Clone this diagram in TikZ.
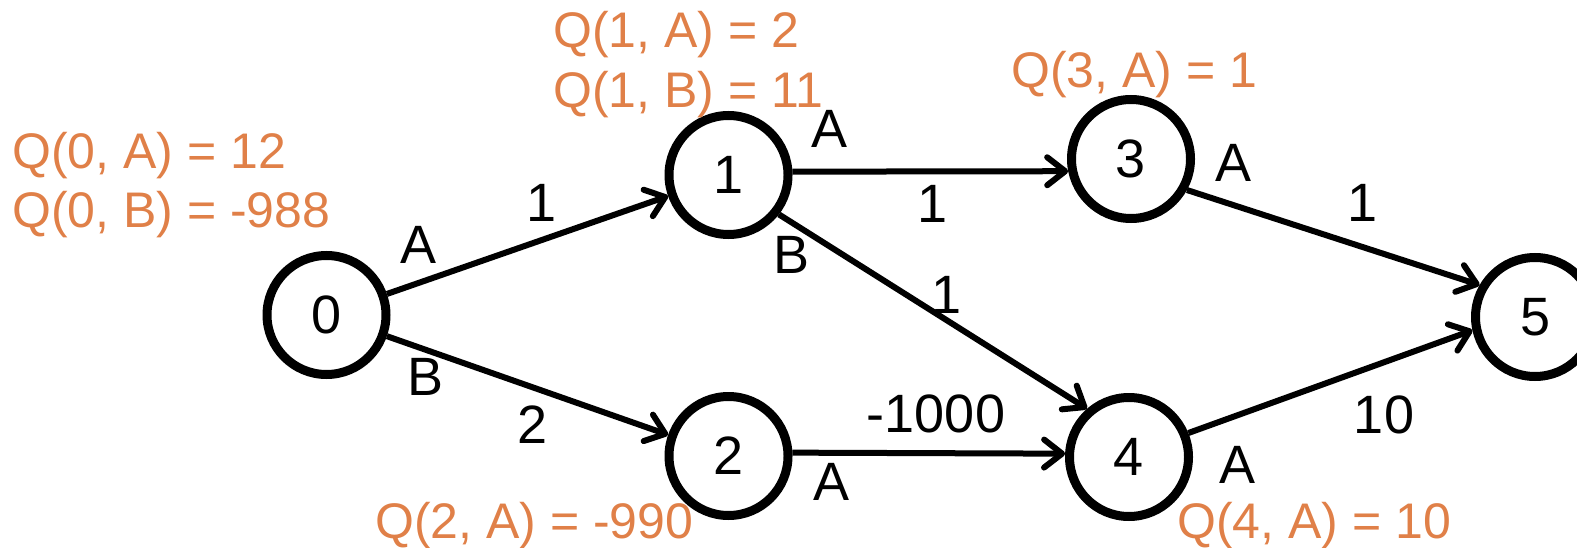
\documentclass[tikz,border=0pt]{standalone}
\usepackage{fontspec}
\setmainfont{Liberation Sans}
\usetikzlibrary{arrows.meta}
\definecolor{qorange}{RGB}{224,128,72}
\begin{document}
\begin{tikzpicture}[x=1pt,y=-1pt,
  state/.style={circle,draw,line width=9pt,minimum size=119pt,inner sep=0pt,font=\fontsize{54}{60}\selectfont},
  edge/.style={line width=6pt,-{Straight Barb[length=18pt,width=28pt,round]}},
  lab/.style={anchor=base,inner sep=0pt,font=\fontsize{54}{60}\selectfont},
  qlab/.style={anchor=base west,inner sep=0pt,text=qorange,font=\fontsize{50}{56}\selectfont}]
\useasboundingbox (0,0) rectangle (1577,548);
\begin{scope}
\clip (0,0) rectangle (1577,548);
\node[state] (n0) at (326.5,315) {0};
\node[state] (n1) at (728.5,175) {1};
\node[state] (n2) at (728.5,456) {2};
\node[state] (n3) at (1131,159) {3};
\node[state] (n4) at (1129,457) {4};
\node[state] (n5) at (1535,317) {5};
\end{scope}
% edges
\draw[edge] (n0) -- (n1);
\draw[edge] (n0) -- (n2);
\draw[edge] (n1.3) -- (n3.191);
\draw[edge] (n1.-38) -- (n4.131);
\draw[edge] (n2.3) -- (n4.177);
\draw[edge] (n3.-29) -- (n5.150);
\draw[edge] (n4.22) -- (n5.192);
% action / reward labels
\node[lab] (a01) at (419,263) {A};
\node[lab] (r01) at (542,222) {1};
\node[lab] (b02) at (426,395) {B};
\node[lab] (r02) at (533,443) {2};
\node[lab] (a13) at (829,148) {A};
\node[lab] (r13) at (933,223) {1};
\node[lab] (b14) at (791,273) {B};
\node[lab] (r14) at (947,313) {1};
\node[lab] (r24) at (936,432) {-1000};
\node[lab] (a24) at (831,500) {A};
\node[lab] (a35) at (1233,182) {A};
\node[lab] (r35) at (1363,222) {1};
\node[lab] (a45) at (1237,483) {A};
\node[lab] (r45) at (1384,433) {10};
% Q values
\node[qlab] (q0a) at (12,169) {Q(0, A) = 12};
\node[qlab] (q0b) at (12,228) {Q(0, B) = -988};
\node[qlab] (q1a) at (553,48) {Q(1, A) = 2};
\node[qlab] (q1b) at (553,108) {Q(1, B) = 11};
\node[qlab] (q3a) at (1011,88) {Q(3, A) = 1};
\node[qlab] (q2a) at (375,538) {Q(2, A) = -990};
\node[qlab] (q4a) at (1177,538) {Q(4, A) = 10};
\end{tikzpicture}
\end{document}
